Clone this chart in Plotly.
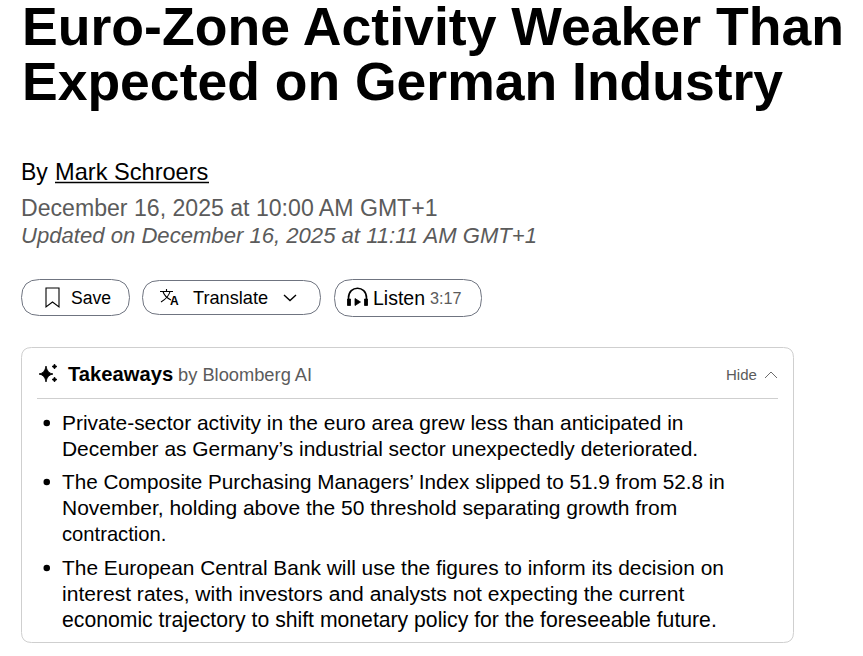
################################################################################
# Texts
################################################################################
import plotly.graph_objects as go

titleLines = ["Euro-Zone Activity Weaker Than", "Expected on German Industry"]
byLabel = "By"
authorName = "Mark Schroers"
publishedLine = "December 16, 2025 at 10:00 AM GMT+1"
updatedLine = "Updated on December 16, 2025 at 11:11 AM GMT+1"
buttonLabels = ["Save", "Translate", "Listen"]
listenTime = "3:17"
takeawaysLabel = "Takeaways"
takeawaysBy = "by Bloomberg AI"
hideLabel = "Hide"
bulletLines = [
    ["Private-sector activity in the euro area grew less than anticipated in",
     "December as Germany’s industrial sector unexpectedly deteriorated."],
    ["The Composite Purchasing Managers’ Index slipped to 51.9 from 52.8 in",
     "November, holding above the 50 threshold separating growth from",
     "contraction."],
    ["The European Central Bank will use the figures to inform its decision on",
     "interest rates, with investors and analysts not expecting the current",
     "economic trajectory to shift monetary policy for the foreseeable future."],
]
################################################################################
# Config
################################################################################
fontName = "Liberation Sans"
black = "#000000"
grey = "#5b5b5b"
borderGrey = "#6f7480"
lightGrey = "#cfcfcf"
# Per line font sizes, the original face has slightly different letter widths
bulletSizes = [[20.95, 20.95], [20.7, 21.0, 20.2], [20.9, 21.05, 21.2]]

fig = go.Figure()


def addText(x, y, text, size, color=black, anchor="left"):
    fig.add_annotation(x=x, y=y, text=text, showarrow=False, xanchor=anchor, yanchor="middle",
                       xref="x", yref="y", borderpad=0, borderwidth=0,
                       font=dict(family=fontName, size=size, color=color))


def roundedRect(x0, y0, x1, y1, r, color, width=1):
    path = ("M %g %g L %g %g Q %g %g %g %g L %g %g Q %g %g %g %g L %g %g Q %g %g %g %g L %g %g Q %g %g %g %g Z"
            % (x0 + r, y0, x1 - r, y0, x1, y0, x1, y0 + r, x1, y1 - r, x1, y1, x1 - r, y1,
               x0 + r, y1, x0, y1, x0, y1 - r, x0, y0 + r, x0, y0, x0 + r, y0))
    fig.add_shape(type="path", path=path, line=dict(color=color, width=width))


def addIcon(path, fill=None, width=1.4):
    fig.add_shape(type="path", path=path, line=dict(color=black, width=width),
                  fillcolor=fill if fill else "rgba(0,0,0,0)")


################################################################################
# Headline and byline
################################################################################
addText(22, 26, "<b>%s</b>" % titleLines[0], 53.6)
addText(22, 81, "<b>%s</b>" % titleLines[1], 53.5)
addText(21, 172, byLabel, 23)
addText(55, 172, authorName, 23.6)
fig.add_shape(type="line", x0=55, x1=209, y0=182.5, y1=182.5, line=dict(color=black, width=1.3))
addText(21, 208, publishedLine, 23.1, grey)
addText(21, 235, "<i>%s</i>" % updatedLine, 22.1, grey)
################################################################################
# Buttons
################################################################################
roundedRect(21.5, 279.5, 129.5, 315.5, 18, borderGrey)
roundedRect(142.5, 280.5, 320.5, 314.5, 17, borderGrey)
roundedRect(334.5, 279.5, 481.5, 316.5, 18, borderGrey)
addText(71, 298, buttonLabels[0], 17.6)
addText(193, 298, buttonLabels[1], 18.2)
addText(373, 298, buttonLabels[2], 19.5)
addText(430, 298, listenTime, 16.2, grey)
# Bookmark
addIcon("M 46 288 L 59 288 L 59 307 L 52.5 302 L 46 307 Z", width=1.1)
# Translate
addIcon("M 160 291.5 L 173 291.5 M 166.5 289 L 166.5 291.5 M 163 291.5 C 164 295 167 298 171 300 M 170 291.5 C 169 296 166 299 161 302", width=1.1)
addText(169.5, 301, "<b>A</b>", 12)
# Chevron
addIcon("M 284 295 L 290 300.5 L 296 295", width=1.4)
# Headphones
addIcon("M 348.5 305 L 348.5 298 C 348.5 285 366.5 285 366.5 298 L 366.5 305", width=1.6)
addIcon("M 347.5 299 L 350.5 299 L 350.5 305.5 L 347.5 305.5 Z M 364.5 299 L 367.5 299 L 367.5 305.5 L 364.5 305.5 Z", fill=black, width=0.8)
addIcon("M 355 298.5 L 360.5 302 L 355 305.5 Z", fill=black, width=0.8)
################################################################################
# Takeaways panel
################################################################################
roundedRect(21.5, 347.5, 793.5, 642.5, 10, lightGrey)
fig.add_shape(type="line", x0=37, x1=778, y0=398.5, y1=398.5, line=dict(color=lightGrey, width=1))
# Sparkles
addIcon("M 46 366 Q 47 373 53 374 Q 47 375 46 382 Q 45 375 39 374 Q 45 373 46 366 Z", fill=black, width=0.8)
addIcon("M 54.5 364 Q 55 366 57 366.5 Q 55 367 54.5 369 Q 54 367 52 366.5 Q 54 366 54.5 364 Z", fill=black, width=0.8)
addIcon("M 54.5 377 Q 55 379 57 379.5 Q 55 380 54.5 382 Q 54 380 52 379.5 Q 54 379 54.5 377 Z", fill=black, width=0.8)
addText(68, 374, "<b>%s</b>" % takeawaysLabel, 20.2)
addText(178, 374, takeawaysBy, 18.3, grey)
addText(726, 374, hideLabel, 15, grey)
fig.add_shape(type="path", path="M 765 378 L 771 372 L 777 378", line=dict(color=grey, width=0.9))

bulletY = [422.3, 481.3, 567.3]
lineHeight = 26.2
for lines, sizes, y0 in zip(bulletLines, bulletSizes, bulletY):
    fig.add_shape(type="circle", x0=43.5, x1=50, y0=y0 - 2.5, y1=y0 + 4, fillcolor=black, line=dict(width=0))
    for i, line in enumerate(lines):
        addText(62, y0 + i * lineHeight, line, sizes[i])
################################################################################
# Layout
################################################################################
fig.update_xaxes(range=[0, 863], visible=False, fixedrange=True)
fig.update_yaxes(range=[656, 0], visible=False, fixedrange=True)
fig.update_layout(width=863, height=656, margin=dict(l=0, r=0, t=0, b=0), autosize=False,
                  paper_bgcolor="white", plot_bgcolor="white", showlegend=False)
fig.write_html("out.html", post_script="document.body.style.margin='0';",
               config=dict(displayModeBar=False))
